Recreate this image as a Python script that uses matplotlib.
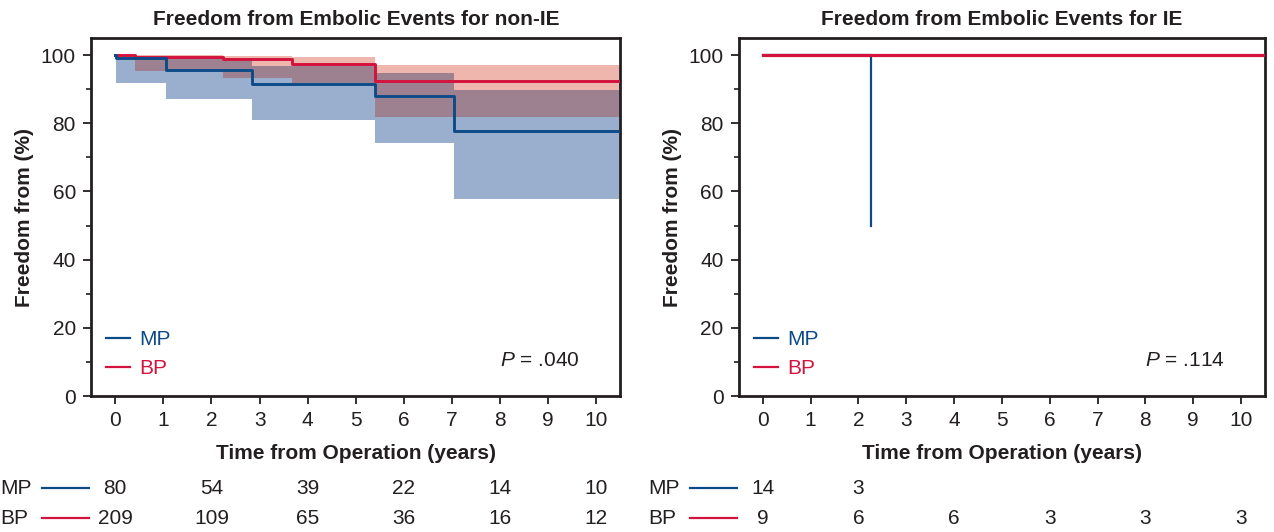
import numpy as np
import matplotlib
matplotlib.use("Agg")
import matplotlib.pyplot as plt
import matplotlib.transforms as mtransforms
from matplotlib.lines import Line2D

plt.rcParams['font.family'] = ['Liberation Sans', 'DejaVu Sans']
plt.rcParams['mathtext.fontset'] = 'custom'
plt.rcParams['mathtext.it'] = 'Liberation Sans:italic'
plt.rcParams['mathtext.rm'] = 'Liberation Sans'

BLUE = '#0d4b88'
RED = '#d3133d'
BLUE_FILL = '#9aaecd'
RED_FILL = '#efb6ae'
BOTH_FILL = '#9d8191'
DARK = '#231f20'

# non-IE: Kaplan-Meier steps (time in years, freedom in %)
mp_t = [0, 0.02, 1.05, 2.85, 5.40, 7.05, 10.5]
mp_s = [100, 99.0, 95.6, 91.6, 87.9, 77.6, 77.6]
mp_lo = [100, 91.8, 87.2, 81.0, 74.2, 57.9, 57.9]
mp_hi = [100, 99.8, 99.0, 96.8, 94.8, 89.7, 89.7]

bp_t = [0, 0.42, 2.24, 3.67, 5.40, 10.5]
bp_s = [100, 99.5, 98.7, 97.3, 92.5, 92.5]
bp_lo = [100, 95.4, 93.4, 91.8, 81.7, 81.7]
bp_hi = [100, 100, 99.8, 99.3, 97.0, 97.0]

# IE
ie_mp_t = [0, 2.26]
ie_mp_s = [100, 50]
ie_bp_t = [0, 10.5]
ie_bp_s = [100, 100]

risk_times = [0, 2, 4, 6, 8, 10]
risk_mp_nonie = ['80', '54', '39', '22', '14', '10']
risk_bp_nonie = ['209', '109', '65', '36', '16', '12']
risk_mp_ie = ['14', '3']
risk_bp_ie = ['9', '6', '6', '3', '3', '3']

p_nonie = '.040'
p_ie = '.114'

FS = 15


def step_values(t, v, grid):
    idx = np.searchsorted(t, grid, side='right') - 1
    return np.asarray(v)[np.clip(idx, 0, len(v) - 1)]


def draw_bands(ax):
    grid = np.union1d(mp_t, bp_t)
    mlo = step_values(mp_t, mp_lo, grid)
    mhi = step_values(mp_t, mp_hi, grid)
    blo = step_values(bp_t, bp_lo, grid)
    bhi = step_values(bp_t, bp_hi, grid)
    ax.fill_between(grid, mlo, mhi, step='post', color=BLUE_FILL, lw=0, zorder=1)
    ax.fill_between(grid, blo, bhi, step='post', color=RED_FILL, lw=0, zorder=1)
    # overlap of the two bands gets its own darker tone
    olo = np.maximum(mlo, blo)
    ohi = np.minimum(mhi, bhi)
    ax.fill_between(grid, olo, ohi, where=ohi > olo, step='post',
                    color=BOTH_FILL, lw=0, zorder=2)


def style_axes(ax, title):
    ax.set_xlim(-0.5, 10.5)
    ax.set_ylim(0, 105)
    ax.set_xticks(range(0, 11))
    ax.set_yticks(range(0, 101, 20))
    ax.set_yticks(range(10, 101, 20), minor=True)
    ax.tick_params(axis='both', which='major', direction='out', length=6,
                   width=1.3, color=DARK, labelsize=FS, labelcolor=DARK, pad=5)
    ax.tick_params(axis='y', which='minor', direction='out', length=3.5,
                   width=1.2, color=DARK)
    for sp in ax.spines.values():
        sp.set_linewidth(2.0)
        sp.set_color(DARK)
    ax.set_title(title, fontsize=FS, fontweight='bold', color=DARK, pad=9)
    ax.set_xlabel('Time from Operation (years)', fontsize=FS,
                  fontweight='bold', color=DARK, labelpad=10)
    ax.set_ylabel('Freedom from (%)', fontsize=FS, fontweight='bold',
                  color=DARK, labelpad=5)


def at_risk(ax, mp_vals, bp_vals):
    tr = mtransforms.blended_transform_factory(ax.transData, ax.transAxes)
    rows = [(-0.257, 'MP', BLUE, mp_vals), (-0.341, 'BP', RED, bp_vals)]
    for y, name, col, vals in rows:
        ax.text(-2.4, y, name, transform=tr, fontsize=FS, color=DARK,
                ha='left', va='center', clip_on=False)
        ax.plot([-1.52, -0.55], [y, y], transform=tr, color=col, lw=1.6,
                clip_on=False)
        for t, v in zip(risk_times, vals):
            ax.text(t, y, v, transform=tr, fontsize=FS, color=DARK,
                    ha='center', va='center', clip_on=False)


def legend_and_p(ax, p):
    handles = [Line2D([], [], color=BLUE, lw=1.6), Line2D([], [], color=RED, lw=1.6)]
    leg = ax.legend(handles, ['MP', 'BP'], loc='lower left',
                    bbox_to_anchor=(0.028, 0.05), frameon=False, fontsize=FS,
                    handlelength=1.15, handletextpad=0.45, labelspacing=0.48,
                    borderpad=0, borderaxespad=0)
    for txt, col in zip(leg.get_texts(), [BLUE, RED]):
        txt.set_color(col)
    ax.text(0.924, 0.1, r'$P$ = ' + p, transform=ax.transAxes,
            fontsize=FS, color=DARK, ha='right', va='center')


fig = plt.figure(figsize=(12.74, 5.32), dpi=100)
ax1 = fig.add_axes([0.0716, 0.2556, 0.4153, 0.673])
ax2 = fig.add_axes([0.5800, 0.2556, 0.4129, 0.673])

draw_bands(ax1)
ax1.plot(mp_t, mp_s, drawstyle='steps-post', color=BLUE, lw=2.1, zorder=4)
ax1.plot(bp_t, bp_s, drawstyle='steps-post', color=RED, lw=2.1, zorder=3)
style_axes(ax1, 'Freedom from Embolic Events for non-IE')
legend_and_p(ax1, p_nonie)
at_risk(ax1, risk_mp_nonie, risk_bp_nonie)

ax2.plot(ie_mp_t, ie_mp_s, drawstyle='steps-post', color=BLUE, lw=1.6, zorder=3)
ax2.plot(ie_bp_t, ie_bp_s, drawstyle='steps-post', color=RED, lw=2.3, zorder=4)
style_axes(ax2, 'Freedom from Embolic Events for IE')
legend_and_p(ax2, p_ie)
at_risk(ax2, risk_mp_ie, risk_bp_ie)

fig.savefig('out.png', dpi=100)
